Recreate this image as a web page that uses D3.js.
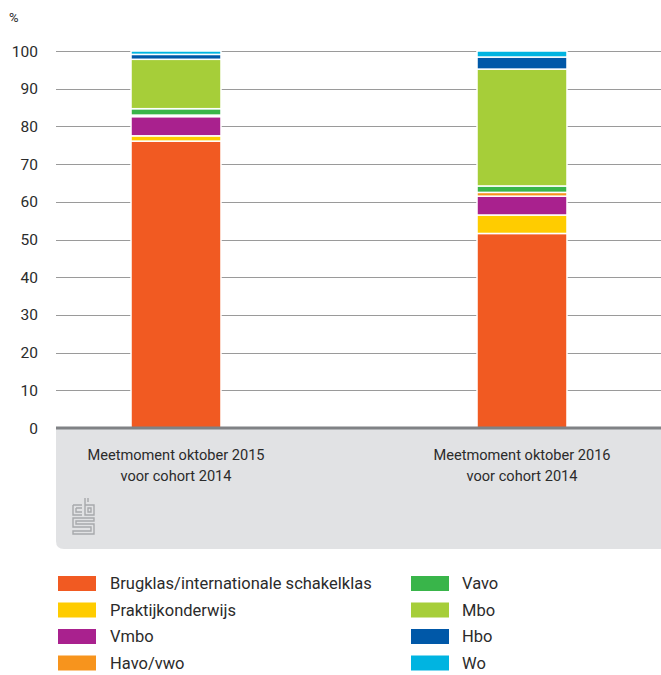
<!DOCTYPE html>
<html>
<head>
<meta charset="UTF-8">
<script src="https://d3js.org/d3.v7.min.js"></script>
<style>
  body { margin: 0; background: #fff; }
  svg text { font-family: Roboto, "Noto Sans", sans-serif; fill: #2b2b2b; }
</style>
</head>
<body>
<div id="chart"></div>
<script>
// categorieën (x-as)
const categories = [
  ["Meetmoment oktober 2015", "voor cohort 2014"],
  ["Meetmoment oktober 2016", "voor cohort 2014"]
];
// onderwijssoorten, van onder naar boven gestapeld
const series = ["Brugklas/internationale schakelklas", "Praktijkonderwijs", "Vmbo", "Havo/vwo", "Vavo", "Mbo", "Hbo", "Wo"];
const seriesColors = ["#f15a22", "#ffcc00", "#a9218e", "#f7941d", "#39b54a", "#a6ce39", "#0058a8", "#00b4e1"];
// percentages per meetmoment
const values2015 = [76.1, 1.4, 5.1, 0.4, 1.7, 13.1, 1.3, 0.9];
const values2016 = [51.6, 4.9, 5.0, 1.0, 1.7, 31.0, 3.2, 1.6];
const yTicks = [0, 10, 20, 30, 40, 50, 60, 70, 80, 90, 100];

const width = 661, height = 675;
const svg = d3.select("#chart").append("svg")
  .attr("width", width).attr("height", height);

const y = d3.scaleLinear().domain([0, 100]).range([428, 51]);
const x = d3.scaleBand().domain([0, 1]).range([3, 695])
  .paddingInner(0.74).paddingOuter(0.37);

// grijs vlak onder de as
svg.append("path")
  .attr("d", "M56,428 H670 V549 H64 Q56,549 56,541 Z")
  .attr("fill", "#e1e2e4");

// rasterlijnen
svg.append("g").selectAll("line")
  .data(yTicks.filter(d => d > 0))
  .join("line")
  .attr("x1", 56).attr("x2", width)
  .attr("y1", d => Math.round(y(d)) + 0.5).attr("y2", d => Math.round(y(d)) + 0.5)
  .attr("stroke", "#9a9a9a").attr("stroke-width", 1);

// y-as labels
svg.append("g").selectAll("text")
  .data(yTicks)
  .join("text")
  .attr("x", 38).attr("y", d => y(d) + 5.5)
  .attr("text-anchor", "end")
  .style("font-size", "15.5px")
  .text(d => d);

svg.append("text").attr("x", 9).attr("y", 22)
  .style("font-size", "13px").text("%");

// gestapelde staven
const data = [values2015, values2016];
data.forEach((vals, i) => {
  let acc = 0;
  const segs = vals.map((v, k) => {
    const s = { k, y0: acc, y1: acc + v };
    acc += v;
    return s;
  });
  svg.append("g").selectAll("rect")
    .data(segs)
    .join("rect")
    .attr("x", x(i))
    .attr("width", x.bandwidth())
    .attr("y", d => y(d.y1))
    .attr("height", d => y(d.y0) - y(d.y1))
    .attr("fill", d => seriesColors[d.k])
    .attr("stroke", "#fff").attr("stroke-width", 1.5);
});

// x-as lijn
svg.append("line")
  .attr("x1", 56).attr("x2", width)
  .attr("y1", 428).attr("y2", 428)
  .attr("stroke", "#808285").attr("stroke-width", 3);

// x-as labels
categories.forEach((lines, i) => {
  const t = svg.append("text")
    .attr("x", x(i) + x.bandwidth() / 2)
    .attr("y", 460)
    .attr("text-anchor", "middle")
    .style("font-size", "14.6px");
  lines.forEach((l, j) => {
    t.append("tspan").attr("x", x(i) + x.bandwidth() / 2)
      .attr("dy", j === 0 ? 0 : 21).text(l);
  });
});

// cbs logo
const logo = svg.append("g").attr("transform", "translate(72,497)")
  .attr("fill", "none").attr("stroke", "#a7a9ac").attr("stroke-width", 1.4);
logo.append("path").attr("d", "M1,8 H10 M1,8 V18 H10 M4,11 H10 M4,11 V15 H10");
logo.append("path").attr("d", "M13,1 V18 H22 V8 H13 M16,1 V5 M16,11 H19 V15 H16 Z");
logo.append("path").attr("d", "M1,21 H22 V24 H4 V27 H22 V37 H1 V34 H19 V30 H1 Z");

// legenda
const legend = svg.append("g");
series.forEach((name, k) => {
  const col = k < 4 ? 0 : 1;
  const row = k % 4;
  const lx = col === 0 ? 58 : 411;
  const ly = 576 + row * 26.5;
  legend.append("rect")
    .attr("x", lx).attr("y", ly)
    .attr("width", 38).attr("height", 15)
    .attr("fill", seriesColors[k]);
  legend.append("text")
    .attr("x", lx + (col === 0 ? 52 : 51)).attr("y", ly + 13)
    .style("font-size", "16.5px")
    .text(name);
});
</script>
</body>
</html>
